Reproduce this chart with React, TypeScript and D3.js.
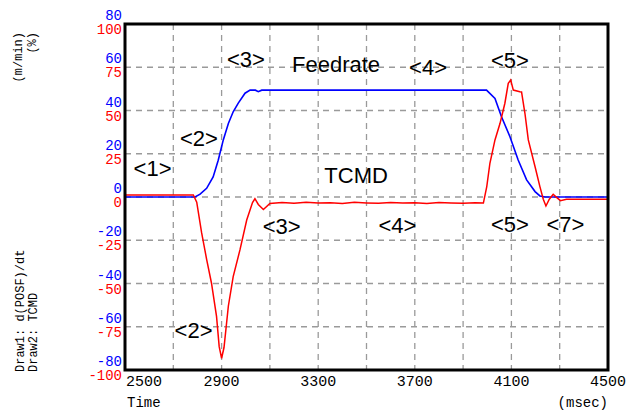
import React, { useEffect, useRef } from "react";
import * as d3 from "d3";

// Draw1: feedrate d(POSF)/dt in m/min, Draw2: TCMD in %
const feedrate: [number, number][] = [
  [2500, 0], [2790, 0], [2811, 1.3], [2838, 4], [2865, 9.3], [2886, 17],
  [2907, 26.4], [2928, 34], [2948, 39.4], [2969, 43.4], [2997, 48],
  [3018, 49.4], [3040, 49.4], [3052, 48.7], [3066, 49.4], [3997, 49.4],
  [4032, 45.6], [4059, 37.1], [4094, 27.9], [4128, 17.1], [4163, 7.9],
  [4198, 2.5], [4218, 0.5], [4240, 0], [4500, 0],
];

const tcmd: [number, number][] = [
  [2500, 1.2], [2783, 1.2], [2797, -3], [2817, -20.5], [2838, -36],
  [2858, -49.7], [2879, -69], [2890, -86.5], [2900, -93.2], [2910, -87],
  [2928, -63], [2948, -46], [2976, -30.6], [3004, -13.3], [3028, -3.2],
  [3038, -1], [3052, -4.3], [3073, -7.2], [3100, -3.7], [3150, -3.2],
  [3200, -3.6], [3250, -3.0], [3300, -3.5], [3350, -3.3], [3400, -3.8],
  [3450, -3.1], [3500, -3.4], [3550, -3.6], [3600, -3.2], [3650, -3.5],
  [3700, -3.3], [3750, -3.7], [3800, -3.2], [3850, -3.4], [3900, -3.6],
  [3950, -3.3], [3984, -3.5], [3998, 6], [4011, 19.5], [4032, 33],
  [4053, 42.6], [4073, 54.2], [4087, 65.7], [4097, 67.6], [4108, 61.8],
  [4135, 60.9], [4142, 60.7], [4156, 48.4], [4170, 33], [4198, 17.5],
  [4218, 6], [4232, -1.3], [4243, -5.2], [4257, -1.3], [4273, 1.6],
  [4287, -0.2], [4303, -2.1], [4328, -1.3], [4500, -1.3],
];

const xTickLabels = [2500, 2900, 3300, 3700, 4100, 4500];
const xGrid = [2700, 2900, 3100, 3300, 3500, 3700, 3900, 4100, 4300];
const feedTicks = [80, 60, 40, 20, 0, -20, -40, -60, -80];
const pctTicks = [100, 75, 50, 25, 0, -25, -50, -75, -100];

// annotation text anchored at (time, %)
const notes: [string, number, number][] = [
  ["<1>", 2614, 12], ["<2>", 2806, 29.5], ["<3>", 3001, 75],
  ["Feedrate", 3374, 72.3], ["<4>", 3755, 70.5], ["<5>", 4094, 74.6],
  ["TCMD", 3457, 8], ["<3>", 3149, -21.4], ["<4>", 3628, -20.8],
  ["<5>", 4094, -20.2], ["<7>", 4324, -20.2], ["<2>", 2784, -81.5],
];

const W = 627;
const H = 413;
const left = 125, right = 608, top = 24, bottom = 370;
const mono = "'Liberation Mono', 'DejaVu Sans Mono', monospace";

const App = () => {
  const svgRef = useRef<SVGSVGElement>(null);

  useEffect(() => {
    const svg = d3.select(svgRef.current);
    svg.selectAll("*").remove();

    const x = d3.scaleLinear().domain([2500, 4500]).range([left, right]);
    const yPct = d3.scaleLinear().domain([-100, 100]).range([bottom, top]);
    const yFeed = d3.scaleLinear().domain([-80, 80]).range([bottom, top]);

    svg.append("rect").attr("width", W).attr("height", H).attr("fill", "white");

    // grid
    const grid = svg.append("g")
      .attr("stroke", "#9a9a9a")
      .attr("stroke-width", 1.3)
      .attr("stroke-dasharray", "6,5");
    grid.selectAll(".vg").data(xGrid).enter().append("line")
      .attr("x1", d => x(d)).attr("x2", d => x(d))
      .attr("y1", top).attr("y2", bottom);
    grid.selectAll(".hg").data(pctTicks.slice(1, -1)).enter().append("line")
      .attr("x1", left).attr("x2", right)
      .attr("y1", d => yPct(d)).attr("y2", d => yPct(d));

    // lines
    const feedLine = d3.line<[number, number]>()
      .x(d => x(d[0])).y(d => yFeed(d[1]));
    const pctLine = d3.line<[number, number]>()
      .x(d => x(d[0])).y(d => yPct(d[1]));

    svg.append("path").datum(feedrate)
      .attr("fill", "none").attr("stroke", "#0000ff").attr("stroke-width", 1.6)
      .attr("d", feedLine);
    svg.append("path").datum(tcmd)
      .attr("fill", "none").attr("stroke", "#ff0000").attr("stroke-width", 1.5)
      .attr("d", pctLine);

    // frame
    svg.append("rect")
      .attr("x", left).attr("y", top)
      .attr("width", right - left).attr("height", bottom - top)
      .attr("fill", "none").attr("stroke", "black").attr("stroke-width", 3);

    // y tick labels: blue (m/min) sits just above red (%)
    svg.selectAll(".ft").data(feedTicks).enter().append("text")
      .attr("x", 122).attr("y", d => yFeed(d) - 4)
      .attr("text-anchor", "end").attr("font-family", mono).attr("font-size", 14)
      .attr("fill", "#0000ff").text(d => d);
    svg.selectAll(".pt").data(pctTicks).enter().append("text")
      .attr("x", 122).attr("y", d => yPct(d) + 10)
      .attr("text-anchor", "end").attr("font-family", mono).attr("font-size", 14)
      .attr("fill", "#ff0000").text(d => d);

    // x tick labels
    svg.selectAll(".xt").data(xTickLabels).enter().append("text")
      .attr("x", (d, i) => (i === 0 ? x(d) + 1 : x(d)))
      .attr("y", 386)
      .attr("text-anchor", (d, i) => (i === 0 ? "start" : "middle"))
      .attr("font-family", mono).attr("font-size", 15).attr("fill", "black")
      .text(d => d);

    svg.append("text").attr("x", 127).attr("y", 407)
      .attr("font-family", mono).attr("font-size", 14).text("Time");
    svg.append("text").attr("x", 608).attr("y", 407).attr("text-anchor", "end")
      .attr("font-family", mono).attr("font-size", 14).text("(msec)");

    // rotated unit / legend text
    const rot = (tx: number, ty: number, anchor: string, s: string) =>
      svg.append("text")
        .attr("transform", `translate(${tx},${ty}) rotate(-90)`)
        .attr("text-anchor", anchor)
        .attr("font-family", mono).attr("font-size", 12).attr("fill", "black")
        .text(s);
    rot(22, 32, "end", "(m/min)");
    rot(36, 32, "end", "(%)");
    rot(24, 372, "start", "Draw1: d(POSF)/dt");
    rot(37, 372, "start", "Draw2: TCMD");

    // annotations
    svg.selectAll(".note").data(notes).enter().append("text")
      .attr("x", d => x(d[1])).attr("y", d => yPct(d[2]))
      .attr("text-anchor", "middle")
      .attr("font-family", "'Liberation Sans', Arial, sans-serif")
      .attr("font-size", 22).attr("fill", "black")
      .text(d => d[0]);
  }, []);

  return (
    <div style={{ position: "fixed", left: 0, top: 0, width: W, height: H }}>
      <svg ref={svgRef} width={W} height={H}></svg>
    </div>
  );
};

export default App;
